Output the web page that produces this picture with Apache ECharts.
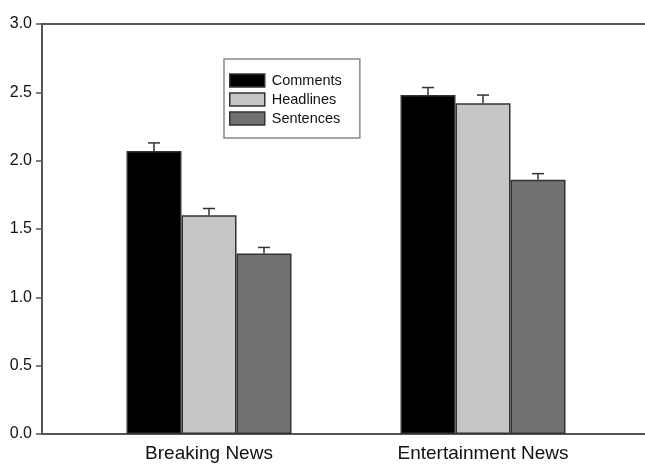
<!DOCTYPE html>
<html>
<head>
<meta charset="utf-8">
<script src="https://cdn.jsdelivr.net/npm/echarts@6/dist/echarts.min.js"></script>
<style>html,body{margin:0;padding:0;background:#fff}#c{width:645px;height:464px}</style>
</head>
<body>
<div id="c"></div>
<script>
var categories = ['Breaking News', 'Entertainment News'];
var seriesNames = ['Comments', 'Headlines', 'Sentences'];
var comments = [2.07, 2.48];
var headlines = [1.60, 2.42];
var sentences = [1.32, 1.86];
var commentsErr = [0.06, 0.055];
var headlinesErr = [0.05, 0.06];
var sentencesErr = [0.045, 0.045];
var yTicks = [0, 0.5, 1.0, 1.5, 2.0, 2.5, 3.0];

var colors = ['#000000', '#c6c6c6', '#717171'];
var values = [comments, headlines, sentences];
var errs = [commentsErr, headlinesErr, sentencesErr];
var BAR_W = 55;

var chart = echarts.init(document.getElementById('c'));
var series = [];
values.forEach(function (vals, k) {
  series.push({
    name: seriesNames[k], type: 'bar', xAxisIndex: 0, yAxisIndex: 0,
    data: vals, barWidth: BAR_W, barGap: '0%',
    itemStyle: { color: colors[k], borderColor: '#333', borderWidth: 1.5 },
    z: 2
  });
});
values.forEach(function (vals, k) {
  var data = vals.map(function (v, i) { return [i, v, v + errs[k][i]]; });
  series.push({
    type: 'custom', xAxisIndex: 0, yAxisIndex: 0, z: 3, silent: true,
    data: data,
    renderItem: function (params, api) {
      var base = api.coord([api.value(0), api.value(1)]);
      var top = api.coord([api.value(0), api.value(2)]);
      var x = base[0] + (k - 1) * BAR_W;
      var style = { stroke: '#333', lineWidth: 1.5 };
      return {
        type: 'group',
        children: [
          { type: 'line', shape: { x1: x, y1: base[1], x2: x, y2: top[1] }, style: style },
          { type: 'line', shape: { x1: x - 6, y1: top[1], x2: x + 6, y2: top[1] }, style: style }
        ]
      };
    }
  });
});

chart.setOption({
  animation: false,
  backgroundColor: '#ffffff',
  textStyle: { fontFamily: 'Liberation Sans, Arial, sans-serif' },
  legend: {
    data: seriesNames,
    orient: 'vertical',
    left: 224, top: 59,
    icon: 'rect',
    itemWidth: 35, itemHeight: 13, itemGap: 4,
    padding: [14, 18, 12, 5],
    borderColor: '#888', borderWidth: 1.5,
    backgroundColor: '#fff',
    textStyle: { fontSize: 14.5, color: '#111', lineHeight: 13, padding: [0, 0, 0, 2] },
    itemStyle: { borderColor: '#333', borderWidth: 1.5 }
  },
  grid: [
    { left: 72, right: 25, top: 24, bottom: 30 },
    { left: 42, right: 0, top: 24, bottom: 30 }
  ],
  xAxis: [
    {
      type: 'category', gridIndex: 0, data: categories,
      axisLine: { show: false }, axisTick: { show: false },
      axisLabel: { fontSize: 19, color: '#111', margin: 10 }
    },
    {
      type: 'value', gridIndex: 1, min: 0, max: 1, position: 'bottom',
      axisLine: { show: true, lineStyle: { color: '#555', width: 2 } },
      axisTick: { show: false }, axisLabel: { show: false }, splitLine: { show: false }
    },
    {
      type: 'value', gridIndex: 1, min: 0, max: 1, position: 'top',
      axisLine: { show: true, lineStyle: { color: '#555', width: 2 } },
      axisTick: { show: false }, axisLabel: { show: false }, splitLine: { show: false }
    }
  ],
  yAxis: [
    {
      type: 'value', gridIndex: 0, min: 0, max: 3, interval: 0.5,
      show: false, splitLine: { show: false }
    },
    {
      type: 'value', gridIndex: 1, min: yTicks[0], max: yTicks[yTicks.length - 1], interval: 0.5,
      axisLine: { show: true, lineStyle: { color: '#555', width: 2 } },
      axisTick: { show: true, length: 6, lineStyle: { color: '#555', width: 1.5 } },
      axisLabel: { fontSize: 16, color: '#111', margin: 10, formatter: function (v) { return v.toFixed(1); } },
      splitLine: { show: false }
    }
  ],
  series: series
});
</script>
</body>
</html>
